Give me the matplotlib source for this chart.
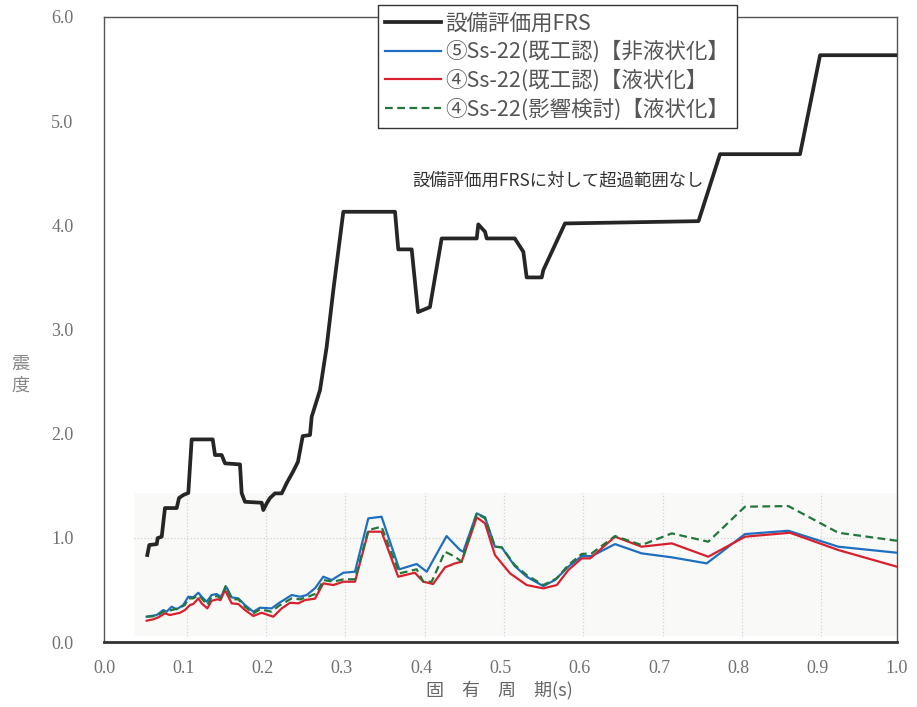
import numpy as np
import matplotlib
matplotlib.use("Agg")
import matplotlib.pyplot as plt
from matplotlib.patches import Rectangle

plt.rcParams['font.family'] = ['Noto Sans CJK JP', 'DejaVu Sans']

# FRS for equipment evaluation
frs_x = [0.0546, 0.0571, 0.0665, 0.0677, 0.0728, 0.0769, 0.0917, 0.0946, 0.100, 0.1063,
         0.1106, 0.1371, 0.140, 0.1484, 0.1526, 0.1715, 0.1736, 0.1778, 0.1989, 0.2009,
         0.2052, 0.2093, 0.2156, 0.2241, 0.2304, 0.2383, 0.2446, 0.2506, 0.2598, 0.2619,
         0.2724, 0.2808, 0.2892, 0.3018, 0.367, 0.3711, 0.388, 0.396, 0.411, 0.4258,
         0.470, 0.472, 0.4805, 0.4826, 0.518, 0.5288, 0.533, 0.552, 0.554, 0.5813,
         0.7497, 0.7768, 0.8777, 0.903, 1.0]
frs_y = [0.835, 0.931, 0.940, 0.998, 1.011, 1.286, 1.286, 1.382, 1.411, 1.430,
         1.945, 1.945, 1.795, 1.795, 1.715, 1.705, 1.430, 1.346, 1.337, 1.267,
         1.331, 1.382, 1.427, 1.427, 1.526, 1.634, 1.730, 1.977, 1.987, 2.162,
         2.418, 2.834, 3.378, 4.130, 4.130, 3.769, 3.769, 3.167, 3.215, 3.874,
         3.874, 4.009, 3.938, 3.874, 3.874, 3.746, 3.500, 3.500, 3.570, 4.018,
         4.040, 4.683, 4.683, 5.633, 5.633]

# (5) Ss-22 non-liquefied
blue_x = [0.0538, 0.0665, 0.0748, 0.079, 0.0853, 0.0916, 0.100, 0.1063, 0.1126, 0.119,
          0.1232, 0.1295, 0.1358, 0.142, 0.147, 0.1547, 0.161, 0.1694, 0.1778, 0.1883,
          0.1967, 0.2114, 0.220, 0.2367, 0.2472, 0.2556, 0.266, 0.2766, 0.2871, 0.3018,
          0.3165, 0.3333, 0.350, 0.3724, 0.3943, 0.407, 0.432, 0.449, 0.453, 0.470,
          0.4805, 0.493, 0.5015, 0.518, 0.533, 0.554, 0.5687, 0.5855, 0.6024, 0.615,
          0.6444, 0.678, 0.716, 0.760, 0.8083, 0.863, 0.926, 1.0]
blue_y = [0.243, 0.259, 0.307, 0.291, 0.339, 0.314, 0.355, 0.435, 0.429, 0.473,
          0.435, 0.387, 0.451, 0.461, 0.435, 0.525, 0.429, 0.419, 0.355, 0.291,
          0.329, 0.323, 0.371, 0.451, 0.435, 0.451, 0.515, 0.627, 0.595, 0.665,
          0.675, 1.187, 1.203, 0.698, 0.749, 0.675, 1.017, 0.883, 0.867, 1.235,
          1.197, 0.915, 0.909, 0.729, 0.627, 0.537, 0.595, 0.723, 0.825, 0.825,
          0.940, 0.851, 0.813, 0.755, 1.036, 1.068, 0.915, 0.857]

# (4) Ss-22 liquefied
red_x = [0.0538, 0.0622, 0.0685, 0.0769, 0.0832, 0.0958, 0.1021, 0.1084, 0.1126, 0.119,
         0.1232, 0.1303, 0.1358, 0.1429, 0.147, 0.1526, 0.161, 0.1694, 0.1778, 0.1883,
         0.1988, 0.2135, 0.2241, 0.2346, 0.245, 0.2535, 0.266, 0.2766, 0.2892, 0.3018,
         0.3165, 0.3333, 0.350, 0.371, 0.392, 0.4027, 0.415, 0.430, 0.4426, 0.451,
         0.470, 0.4805, 0.493, 0.512, 0.533, 0.554, 0.571, 0.5855, 0.6024, 0.613,
         0.6444, 0.678, 0.716, 0.762, 0.8083, 0.865, 0.926, 1.0]
red_y = [0.205, 0.218, 0.237, 0.275, 0.259, 0.281, 0.307, 0.355, 0.365, 0.419,
         0.371, 0.323, 0.396, 0.410, 0.403, 0.499, 0.371, 0.365, 0.307, 0.250,
         0.281, 0.243, 0.323, 0.377, 0.371, 0.403, 0.416, 0.563, 0.547, 0.579,
         0.579, 1.059, 1.059, 0.627, 0.665, 0.579, 0.557, 0.717, 0.755, 0.771,
         1.197, 1.139, 0.835, 0.659, 0.547, 0.515, 0.547, 0.691, 0.803, 0.803,
         1.011, 0.915, 0.947, 0.819, 1.011, 1.049, 0.883, 0.723]

# (4) Ss-22 impact study, liquefied
green_x = [0.0538, 0.0665, 0.0748, 0.0853, 0.0937, 0.102, 0.1063, 0.1126, 0.119, 0.1232,
           0.1303, 0.1358, 0.1429, 0.147, 0.1534, 0.161, 0.1694, 0.1778, 0.1883, 0.1967,
           0.2114, 0.220, 0.2367, 0.2472, 0.2576, 0.268, 0.2766, 0.2892, 0.3018, 0.3165,
           0.3333, 0.350, 0.3724, 0.3943, 0.4027, 0.4132, 0.430, 0.4426, 0.451, 0.470,
           0.4805, 0.493, 0.5015, 0.518, 0.533, 0.554, 0.571, 0.5855, 0.6024, 0.615,
           0.6444, 0.678, 0.716, 0.762, 0.8083, 0.863, 0.926, 1.0]
green_y = [0.243, 0.250, 0.291, 0.307, 0.323, 0.355, 0.419, 0.419, 0.451, 0.419,
           0.355, 0.435, 0.441, 0.419, 0.537, 0.410, 0.410, 0.339, 0.275, 0.314,
           0.291, 0.345, 0.419, 0.410, 0.435, 0.467, 0.595, 0.579, 0.602, 0.602,
           1.075, 1.107, 0.659, 0.698, 0.579, 0.579, 0.867, 0.819, 0.771, 1.235,
           1.187, 0.915, 0.909, 0.739, 0.643, 0.547, 0.611, 0.739, 0.845, 0.851,
           1.017, 0.931, 1.043, 0.963, 1.299, 1.305, 1.049, 0.972]

labels = ['設備評価用FRS',
          '⑤Ss-22(既工認)【非液状化】',
          '④Ss-22(既工認)【液状化】',
          '④Ss-22(影響検討)【液状化】']

fig = plt.figure(figsize=(9.17, 7.07), dpi=100)
ax = fig.add_axes([0.1134, 0.0919, 0.8648, 0.8841])

# pasted inset background with its own grid
ax.add_patch(Rectangle((0.0375, 0.06), 0.9625, 1.373, facecolor='#f9f9f8',
                       edgecolor='none', zorder=0))
ax.vlines(np.arange(0.1045, 0.95, 0.1), 0.06, 1.433, colors='#d2d2d2',
          linestyles=':', linewidth=0.9, zorder=1)
ax.hlines(0.995, 0.0375, 1.0, colors='#d2d2d2', linestyles=':', linewidth=0.9, zorder=1)

l1, = ax.plot(frs_x, frs_y, color='#262626', lw=2.7, zorder=5)
l2, = ax.plot(blue_x, blue_y, color='#1f6fc0', lw=1.6, zorder=3)
l3, = ax.plot(red_x, red_y, color='#d8202e', lw=1.6, zorder=4)
l4, = ax.plot(green_x, green_y, color='#22763a', lw=1.6, ls=(0, (3.5, 2)), zorder=4)

ax.set_xlim(0, 1.0)
ax.set_ylim(0, 6.0)
ax.set_xticks(np.arange(0, 1.01, 0.1))
ax.set_yticks(np.arange(0, 6.01, 1.0))
ax.set_xticklabels(['%.1f' % v for v in np.arange(0, 1.01, 0.1)],
                   family='Liberation Serif', fontsize=13, color='#707070')
ax.set_yticklabels(['%.1f' % v for v in np.arange(0, 6.01, 1.0)],
                   family='Liberation Serif', fontsize=13, color='#707070')
ax.tick_params(axis='x', length=0, pad=13)
ax.tick_params(axis='y', length=0, pad=22)

for s in ['left', 'top', 'right']:
    ax.spines[s].set_color('#555555')
    ax.spines[s].set_linewidth(1.0)
ax.spines['bottom'].set_color('#333333')
ax.spines['bottom'].set_linewidth(2.0)

ax.text(0.5725, 4.43, '設備評価用FRSに対して超過範囲なし', fontsize=12.5,
        color='#333333', ha='center', va='center')

fig.text(0.022, 0.47, '震\n度', fontsize=13, color='#888888',
         ha='center', va='center', linespacing=1.3)
fig.text(0.545, 0.024, '固　有　周　期(s)', fontsize=13, color='#666666',
         ha='center', va='center')

leg = fig.legend([l1, l2, l3, l4], labels, loc='upper left',
                 bbox_to_anchor=(0.412, 0.993), bbox_transform=fig.transFigure,
                 borderaxespad=0, fontsize=15.5, frameon=True, fancybox=False,
                 edgecolor='#333333', framealpha=1, handlelength=2.6,
                 handletextpad=0.2, labelspacing=0.3, borderpad=0.35)
leg.get_frame().set_linewidth(1.0)
for t in leg.get_texts():
    t.set_color('#555555')

plt.savefig('out.png', dpi=100)
